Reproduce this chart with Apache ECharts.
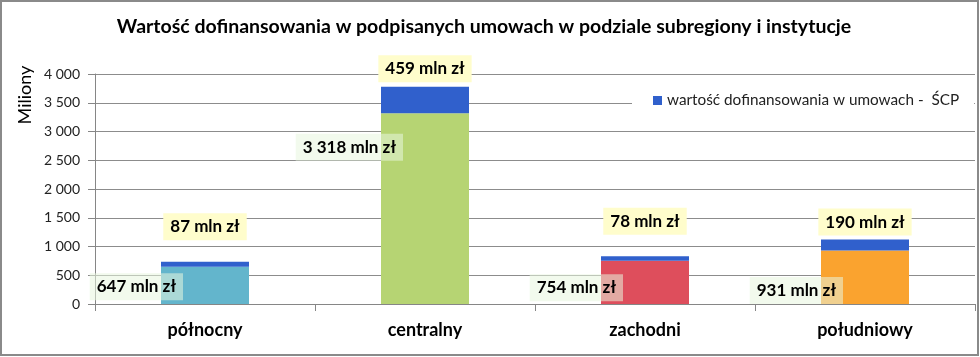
<!DOCTYPE html>
<html><head><meta charset="utf-8">
<script src="https://cdn.jsdelivr.net/npm/echarts/dist/echarts.min.js"></script>
<style>html,body{margin:0;padding:0;background:#fff}#c{width:980px;height:357px}</style>
</head><body><div id="c"></div>
<script>
// ---- data ----
const chartTitle = 'Wartość dofinansowania w podpisanych umowach w podziale subregiony i instytucje';
const categories = ['północny', 'centralny', 'zachodni', 'południowy'];
const baseName = 'wartość dofinansowania w umowach - instytucje';
const baseValues = [647, 3318, 754, 931];
const scpName = 'wartość dofinansowania w umowach -  ŚCP';
const scpValues = [87, 459, 78, 190];
const yAxisName = 'Miliony';
const yMin = 0, yMax = 4000, yStep = 500;

// ---- styles ----
const barColors = ['#63b5cc', '#b6d473', '#de4e5c', '#faa32f'];
const scpColor = '#3060cc';
const baseLabelDy = [20, 34, 27, 40];      // label centre below bar top
const scpLabelDy = [35, 18, 35, 17.5];     // label centre above bar top
const FONT = 'Lato, "Open Sans", sans-serif';

const fmtNum = v => String(v).replace(/\B(?=(\d{3})+(?!\d))/g, ' ');
const labelText = p => fmtNum(p.value) + ' mln zł';

const chart = echarts.init(document.getElementById('c'), null, {renderer: 'canvas'});
chart.setOption({
  animation: false,
  backgroundColor: '#fff',
  title: {
    text: chartTitle, left: 484, top: 17, textAlign: 'center', padding: 0,
    textStyle: {fontFamily: FONT, fontSize: 19.5, fontWeight: 'bold', color: '#000'}
  },
  legend: {
    data: [scpName], left: 632, top: 88, padding: [5, 15, 5, 21],
    backgroundColor: '#fff', icon: 'rect', itemWidth: 9, itemHeight: 9, itemGap: 4,
    textStyle: {fontFamily: FONT, fontSize: 15.3, color: '#222'}
  },
  grid: {left: 95, right: 5, top: 74, bottom: 53, containLabel: false},
  xAxis: {
    type: 'category', data: categories,
    axisLine: {lineStyle: {color: '#868686'}},
    axisTick: {show: true, length: 7, interval: 0, lineStyle: {color: '#868686'}},
    axisLabel: {margin: 17, fontFamily: FONT, fontSize: 18, fontWeight: 'bold', color: '#000'}
  },
  yAxis: {
    type: 'value', min: yMin, max: yMax, interval: yStep,
    axisLine: {show: true, lineStyle: {color: '#868686'}},
    axisTick: {show: true, length: 7, lineStyle: {color: '#868686'}},
    splitLine: {lineStyle: {color: '#8c8c8c'}},
    axisLabel: {margin: 15, fontFamily: FONT, fontSize: 14, color: '#222', formatter: v => fmtNum(v)}
  },
  graphic: [
    {type: 'rect', silent: true, z: 100, shape: {x: 1, y: 1, width: 977, height: 354},
     style: {fill: 'none', stroke: '#8a8a8a', lineWidth: 2}},
    {type: 'text', x: 25, y: 95, rotation: Math.PI / 2,
     style: {text: yAxisName, fontFamily: FONT, fontSize: 18, fill: '#000', textAlign: 'center', textVerticalAlign: 'middle'}}
  ],
  series: [
    {
      name: baseName, type: 'bar', stack: 'a', barWidth: '40%',
      data: baseValues.map((v, i) => ({
        value: v,
        itemStyle: {color: barColors[i]},
        label: {position: [22, baseLabelDy[i]]}
      })),
      label: {
        show: true, formatter: labelText, align: 'right', verticalAlign: 'middle',
        fontFamily: FONT, fontSize: 17, fontWeight: 'bold', color: '#000',
        backgroundColor: 'rgba(232,246,222,0.55)', padding: [5, 7]
      }
    },
    {
      name: scpName, type: 'bar', stack: 'a', barWidth: '40%',
      itemStyle: {color: scpColor},
      data: scpValues.map((v, i) => ({
        value: v,
        label: {position: ['50%', -scpLabelDy[i]]}
      })),
      label: {
        show: true, formatter: labelText, align: 'center', verticalAlign: 'middle',
        fontFamily: FONT, fontSize: 17, fontWeight: 'bold', color: '#000',
        backgroundColor: '#fffdcc', padding: [5, 7]
      }
    }
  ]
});
</script></body></html>
